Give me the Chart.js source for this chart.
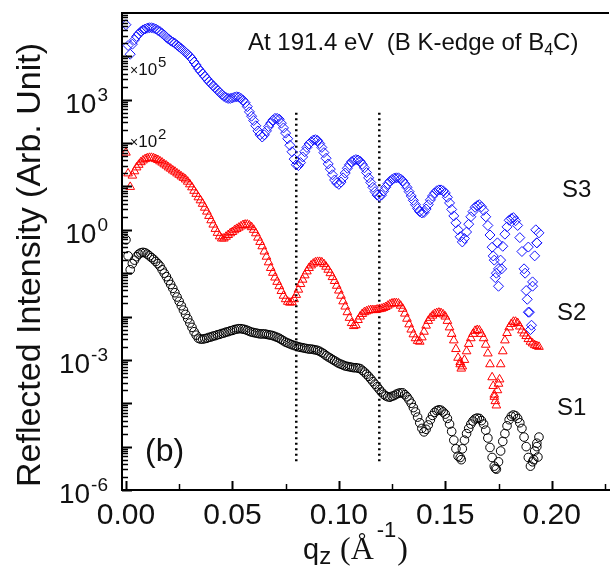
<!DOCTYPE html>
<html>
<head>
<meta charset="utf-8">
<script src="https://cdn.jsdelivr.net/npm/chart.js@4.4.1/dist/chart.umd.min.js"></script>
<style>
html,body{margin:0;padding:0;background:#fff;}
canvas{display:block;}
</style>
</head>
<body>
<canvas id="myChart" width="615" height="570"></canvas>
<script>
//qz (1/Å) の値。3本とも同じ刻み (0.001)
var qz = [
  0.000,0.001,0.002,0.003,0.004,0.005,0.006,0.007,0.008,0.009,
  0.010,0.011,0.012,0.013,0.014,0.015,0.016,0.017,0.018,0.019,
  0.020,0.021,0.022,0.023,0.024,0.025,0.026,0.027,0.028,0.029,
  0.030,0.031,0.032,0.033,0.034,0.035,0.036,0.037,0.038,0.039,
  0.040,0.041,0.042,0.043,0.044,0.045,0.046,0.047,0.048,0.049,
  0.050,0.051,0.052,0.053,0.054,0.055,0.056,0.057,0.058,0.059,
  0.060,0.061,0.062,0.063,0.064,0.065,0.066,0.067,0.068,0.069,
  0.070,0.071,0.072,0.073,0.074,0.075,0.076,0.077,0.078,0.079,
  0.080,0.081,0.082,0.083,0.084,0.085,0.086,0.087,0.088,0.089,
  0.090,0.091,0.092,0.093,0.094,0.095,0.096,0.097,0.098,0.099,
  0.100,0.101,0.102,0.103,0.104,0.105,0.106,0.107,0.108,0.109,
  0.110,0.111,0.112,0.113,0.114,0.115,0.116,0.117,0.118,0.119,
  0.120,0.121,0.122,0.123,0.124,0.125,0.126,0.127,0.128,0.129,
  0.130,0.131,0.132,0.133,0.134,0.135,0.136,0.137,0.138,0.139,
  0.140,0.141,0.142,0.143,0.144,0.145,0.146,0.147,0.148,0.149,
  0.150,0.151,0.152,0.153,0.154,0.155,0.156,0.157,0.158,0.159,
  0.160,0.161,0.162,0.163,0.164,0.165,0.166,0.167,0.168,0.169,
  0.170,0.171,0.172,0.173,0.174,0.175,0.176,0.177,0.178,0.179,
  0.180,0.181,0.182,0.183,0.184,0.185,0.186,0.187,0.188,0.189,
  0.190,0.191,0.192,0.193,0.194
];
//S3 (x10^5 済み)
var s3 = [
  5.37e4,1.78e4,1.12e4,1.91e4,2.40e4,2.88e4,3.31e4,3.72e4,4.07e4,4.27e4,
  4.47e4,4.57e4,4.57e4,4.47e4,4.27e4,3.98e4,3.72e4,3.39e4,3.09e4,2.75e4,
  2.51e4,2.29e4,2.14e4,2.0e4,1.82e4,1.66e4,1.51e4,1.38e4,1.23e4,1.12e4,
  1.0e4,8.71e3,7.41e3,6.31e3,5.25e3,4.57e3,3.98e3,3.47e3,3.02e3,2.63e3,
  2.34e3,2.09e3,1.86e3,1.66e3,1.48e3,1.32e3,1.20e3,1.12e3,1.07e3,1.07e3,
  1.10e3,1.15e3,1.17e3,1.15e3,1.07e3,977,851,692,525,417,
  331,251,191,155,138,155,191,240,288,339,
  372,372,355,288,224,170,126,89.1,63.1,42.7,
  31.6,30.2,35.5,47.9,63.1,79.4,95.5,107,117,120,
  115,97.7,79.4,60.3,44.7,33.1,25.1,18.6,14.1,12.0,
  11.2,12.6,15.8,20.4,26.3,31.6,37.2,39.8,41.7,40.7,
  38.0,32.4,26.9,20.9,15.8,12.3,9.55,7.59,6.31,5.89,
  6.31,7.76,9.55,11.5,13.2,14.5,15.5,15.8,15.8,14.8,
  13.5,11.5,9.55,7.59,6.03,4.79,3.80,3.09,2.63,2.45,
  2.51,3.02,3.80,4.90,6.03,7.08,7.94,8.32,8.32,7.94,
  7.08,5.62,4.17,2.95,2.09,1.45,1.0,0.692,0.525,0.631,
  0.891,1.35,2.0,2.63,3.31,3.63,3.80,3.39,2.82,2.0,
  1.26,0.759,0.398,0.2,0.1,0.126,0.2,0.417,0.794,1.17,
  1.66,1.82,1.91,1.62,1.26,0.661,0.316,0.126,0.0398,0.0126,
  5.0e-3,0.0501,0.251,0.501,0.851
];
//S2 (x10^2 済み)
var s2 = [
  60.3,20.0,9.77,17.8,22.4,27.5,31.6,36.3,39.8,42.7,
  44.7,45.7,45.7,44.7,42.7,40.7,38.0,35.5,32.4,30.2,
  27.5,25.7,23.4,21.9,20.0,18.6,17.0,15.8,14.5,12.9,
  11.2,9.55,7.94,6.76,5.62,4.79,3.98,3.24,2.63,2.09,
  1.66,1.32,1.05,0.851,0.708,0.631,0.631,0.692,0.759,0.832,
  0.891,0.977,1.05,1.12,1.20,1.29,1.32,1.32,1.26,1.15,
  1.0,0.832,0.661,0.525,0.417,0.316,0.240,0.178,0.132,0.102,
  0.0794,0.0631,0.0501,0.0389,0.0302,0.0251,0.0219,0.0209,0.0214,0.0251,
  0.0316,0.0417,0.0562,0.0708,0.0891,0.110,0.132,0.151,0.166,0.178,
  0.182,0.182,0.178,0.162,0.141,0.120,0.1,0.0813,0.0661,0.0513,
  0.0398,0.0302,0.0224,0.0170,0.0126,9.33e-3,7.08e-3,6.03e-3,6.31e-3,8.32e-3,
  0.01,0.0115,0.0126,0.0132,0.0138,0.0141,0.0141,0.0141,0.0145,0.0148,
  0.0151,0.0158,0.0166,0.0178,0.0191,0.02,0.0204,0.0204,0.02,0.0178,
  0.0151,0.0117,8.91e-3,6.61e-3,5.01e-3,3.89e-3,3.16e-3,2.75e-3,2.63e-3,3.31e-3,
  4.47e-3,6.17e-3,7.94e-3,9.33e-3,0.0105,0.0115,0.012,0.0123,0.012,0.0112,
  0.01,7.94e-3,5.62e-3,3.98e-3,2.82e-3,1.78e-3,1.12e-3,7.94e-4,7.08e-4,1.0e-3,
  1.58e-3,2.34e-3,3.16e-3,3.98e-3,4.68e-3,4.90e-3,4.79e-3,3.98e-3,3.16e-3,2.24e-3,
  1.41e-3,7.94e-4,3.98e-4,1.58e-4,8.91e-5,2.82e-4,7.94e-4,1.58e-3,2.82e-3,4.17e-3,
  5.62e-3,6.76e-3,7.59e-3,7.59e-3,7.08e-3,5.89e-3,4.79e-3,4.07e-3,3.55e-3,3.02e-3,
  2.63e-3,2.40e-3,2.19e-3,2.09e-3,2.0e-3
];
//S1
var s1 = [
  0.589,0.251,0.120,0.166,0.200,0.240,0.275,0.295,0.302,0.295,
  0.275,0.251,0.229,0.209,0.186,0.166,0.145,0.120,0.1,0.0832,
  0.0676,0.0550,0.0447,0.0355,0.0282,0.0224,0.0178,0.0141,0.0112,8.91e-3,
  7.08e-3,5.62e-3,4.47e-3,3.72e-3,3.16e-3,3.02e-3,3.02e-3,3.09e-3,3.16e-3,3.31e-3,
  3.39e-3,3.55e-3,3.63e-3,3.80e-3,3.89e-3,4.07e-3,4.17e-3,4.37e-3,4.47e-3,4.68e-3,
  4.79e-3,5.01e-3,5.13e-3,5.25e-3,5.25e-3,5.13e-3,5.01e-3,4.79e-3,4.57e-3,4.37e-3,
  4.27e-3,4.17e-3,4.07e-3,3.98e-3,3.98e-3,3.98e-3,3.89e-3,3.80e-3,3.72e-3,3.63e-3,
  3.47e-3,3.31e-3,3.16e-3,2.95e-3,2.75e-3,2.57e-3,2.45e-3,2.34e-3,2.24e-3,2.14e-3,
  2.09e-3,2.0e-3,1.95e-3,1.91e-3,1.86e-3,1.82e-3,1.78e-3,1.78e-3,1.74e-3,1.70e-3,
  1.66e-3,1.58e-3,1.48e-3,1.38e-3,1.26e-3,1.17e-3,1.10e-3,1.02e-3,9.55e-4,8.91e-4,
  8.32e-4,7.94e-4,7.59e-4,7.24e-4,7.08e-4,6.92e-4,6.76e-4,6.61e-4,6.61e-4,6.46e-4,
  6.31e-4,5.75e-4,5.25e-4,4.68e-4,4.17e-4,3.63e-4,3.16e-4,2.75e-4,2.40e-4,2.09e-4,
  1.82e-4,1.62e-4,1.48e-4,1.41e-4,1.38e-4,1.45e-4,1.51e-4,1.62e-4,1.70e-4,1.74e-4,
  1.74e-4,1.58e-4,1.41e-4,1.20e-4,1.0e-4,7.94e-5,6.31e-5,4.79e-5,3.55e-5,2.63e-5,
  2.19e-5,2.51e-5,3.16e-5,4.17e-5,5.25e-5,6.17e-5,6.76e-5,7.08e-5,6.92e-5,6.31e-5,
  5.62e-5,4.47e-5,3.31e-5,2.24e-5,1.41e-5,8.91e-6,6.03e-6,5.62e-6,8.91e-6,1.41e-5,
  2.0e-5,2.63e-5,3.31e-5,3.89e-5,4.37e-5,4.57e-5,4.47e-5,3.98e-5,3.31e-5,2.40e-5,
  1.58e-5,9.55e-6,5.62e-6,3.55e-6,3.02e-6,4.47e-6,7.94e-6,1.32e-5,2.0e-5,3.02e-5,
  4.17e-5,5.01e-5,5.37e-5,5.13e-5,4.47e-5,3.55e-5,2.63e-5,1.66e-5,1.0e-5,5.62e-6,
  3.55e-6,4.47e-6,7.94e-6,1.20e-5,1.66e-5
];
//最後のほうのばらついた点
var s3ExtraQ = [0.1725,0.1735,0.1745,0.175,0.1765,0.1875,0.1885,0.189,0.1895,0.1905,0.191,0.1925,0.193];
var s3ExtraVal = [0.25,0.079,0.5,0.05,0.126,0.1,0.025,0.4,0.0126,6.3e-3,0.063,1.0,0.5];
var s2ExtraQ = [0.157,0.1575,0.1725,0.173,0.1735,0.1745,0.1755];
var s2ExtraVal = [8.91e-4,6.31e-4,2.51e-4,1.41e-4,1.12e-4,2.0e-4,3.55e-4];
var s1ExtraQ = [0.1575,0.1735,0.1915,0.193,0.1935];
var s1ExtraVal = [5.0e-6,3.16e-6,5.0e-6,1.0e-5,5.75e-6];
//点線の位置
var dotQ = [0.08, 0.119];
var dotRange = [500, 3.8e-6];
//ラベル付きの目盛り (10^n)
var yLabelExp = [-6, -3, 0, 3];

var fontSans = '"Liberation Sans", Arial, sans-serif';
var fontSerif = '"Liberation Serif", "Times New Roman", serif';

function to_points(xarr, yarr){
    var out = [];
    for(var i = 0; i < xarr.length; i++){
        out.push({x: xarr[i], y: yarr[i]});
    }
    return out;
}

//軸の内向き目盛りと文字を描く
var deco_plugin = {
    id: 'deco',
    afterDraw: function(chart){
        var ctx = chart.ctx;
        var xs = chart.scales.x, ys = chart.scales.y;
        var area = chart.chartArea;
        ctx.save();
        ctx.strokeStyle = '#000';
        ctx.fillStyle = '#111';
        //上の枠
        ctx.lineWidth = 2;
        ctx.beginPath(); ctx.moveTo(area.left, area.top); ctx.lineTo(area.right, area.top); ctx.stroke();
        //x の目盛り
        xs.ticks.forEach(function(t){
            var px = Math.round(xs.getPixelForValue(t.value)) + 0.5;
            ctx.lineWidth = 2;
            ctx.beginPath(); ctx.moveTo(px, area.bottom); ctx.lineTo(px, area.bottom - 9); ctx.stroke();
            var mv = t.value + 0.025;
            if(mv <= xs.max){
                var mx = Math.round(xs.getPixelForValue(mv)) + 0.5;
                ctx.lineWidth = 1.5;
                ctx.beginPath(); ctx.moveTo(mx, area.bottom); ctx.lineTo(mx, area.bottom - 6); ctx.stroke();
            }
        });
        //y の目盛り（対数）
        for(var e = -6; e <= 4; e++){
            var py = Math.round(ys.getPixelForValue(Math.pow(10, e))) + 0.5;
            ctx.lineWidth = 2;
            ctx.beginPath(); ctx.moveTo(area.left, py); ctx.lineTo(area.left + 10, py); ctx.stroke();
            for(var m = 2; m <= 9; m++){
                var my = Math.round(ys.getPixelForValue(m * Math.pow(10, e))) + 0.5;
                ctx.lineWidth = 1.5;
                ctx.beginPath(); ctx.moveTo(area.left, my); ctx.lineTo(area.left + 6, my); ctx.stroke();
            }
        }
        function txt(str, x, y, size, family, align){
            ctx.font = size + 'px ' + (family || fontSans);
            ctx.textAlign = align || 'left';
            ctx.textBaseline = 'alphabetic';
            ctx.fillText(str, x, y);
            return ctx.measureText(str).width;
        }
        //y のラベル 10^n
        yLabelExp.forEach(function(e){
            var py = ys.getPixelForValue(Math.pow(10, e));
            ctx.font = '19px ' + fontSans;
            var ew = ctx.measureText(String(e)).width;
            txt(String(e), 108, py + 1, 19, fontSans, 'right');
            txt('10', 108 - ew - 1, py + 13, 28, fontSans, 'right');
        });
        //y 軸タイトル
        ctx.save();
        ctx.translate(40, 265);
        ctx.rotate(-Math.PI / 2);
        txt('Reflected Intensity (Arb. Unit)', 0, 0, 34, fontSans, 'center');
        ctx.restore();
        //x 軸タイトル
        var x = 303;
        x += txt('q', x, 559, 29);
        txt('z', x, 564, 24);
        x = 340;
        x += txt('(\u00c5', x, 559, 32, fontSerif);
        x += txt('-1', x + 3, 537, 22) + 3;
        txt(')', x + 1, 559, 32, fontSerif);
        //タイトル
        x = 248;
        x += txt('At 191.4 eV  (B K-edge of B', x, 50, 24);
        x += txt('4', x, 55, 16);
        txt('C)', x, 50, 24);
        //倍率
        x = 130;
        x += txt('\u00d7', x, 75, 14);
        x += txt('10', x, 75, 17);
        txt('5', x + 1, 67, 15);
        x = 130;
        x += txt('\u00d7', x, 147, 14);
        x += txt('10', x, 147, 17);
        txt('2', x + 1, 139, 15);
        //その他
        txt('(b)', 145, 461, 32);
        txt('S3', 562, 197, 24);
        txt('S2', 557, 320, 24);
        txt('S1', 557, 415, 24);
        ctx.restore();
    }
};

var ctx = document.getElementById('myChart');
var datasets = [
    {
        label: 'S1',
        data: to_points(qz, s1).concat(to_points(s1ExtraQ, s1ExtraVal)),
        pointStyle: 'circle',
        pointRadius: 4.3,
        borderColor: '#000',
        backgroundColor: 'rgba(0,0,0,0)',
        pointBorderWidth: 1,
        showLine: false
    },
    {
        label: 'S2',
        data: to_points(qz, s2).concat(to_points(s2ExtraQ, s2ExtraVal)),
        pointStyle: 'triangle',
        pointRadius: 5,
        borderColor: 'rgb(255,0,0)',
        backgroundColor: 'rgba(0,0,0,0)',
        pointBorderWidth: 1,
        showLine: false
    },
    {
        label: 'S3',
        data: to_points(qz, s3).concat(to_points(s3ExtraQ, s3ExtraVal)),
        pointStyle: 'rectRot',
        pointRadius: 5,
        borderColor: 'rgb(20,20,255)',
        backgroundColor: 'rgba(0,0,0,0)',
        pointBorderWidth: 1,
        showLine: false
    }
];
dotQ.forEach(function(q){
    datasets.push({
        data: [{x: q, y: dotRange[0]}, {x: q, y: dotRange[1]}],
        showLine: true,
        borderColor: '#000',
        borderWidth: 2.5,
        borderDash: [2, 3.5],
        pointRadius: 0
    });
});

var chart = new Chart(ctx, {
    type: 'scatter',
    data: {datasets: datasets},
    options: {
        responsive: false,
        animation: false,
        devicePixelRatio: 1,
        layout: {padding: {top: 13, right: 0, bottom: 0, left: 0}},
        plugins: {legend: {display: false}, tooltip: {enabled: false}},
        scales: {
            x: {
                type: 'linear',
                min: -0.00186,
                max: 0.2269,
                grid: {display: false, drawTicks: false, tickLength: 0},
                border: {display: true, color: '#000', width: 2},
                ticks: {
                    stepSize: 0.05,
                    includeBounds: false,
                    autoSkip: false,
                    maxRotation: 0,
                    padding: 8,
                    color: '#111',
                    font: {size: 30, family: fontSans},
                    callback: function(v){ return v.toFixed(2); }
                },
                afterFit: function(scale){ scale.height = 80; }
            },
            y: {
                type: 'logarithmic',
                min: 1e-6,
                max: 1e5,
                grid: {display: false, drawTicks: false, tickLength: 0},
                border: {display: true, color: '#000', width: 2},
                ticks: {display: false},
                afterFit: function(scale){ scale.width = 122; }
            }
        }
    },
    plugins: [deco_plugin]
});
</script>
</body>
</html>
